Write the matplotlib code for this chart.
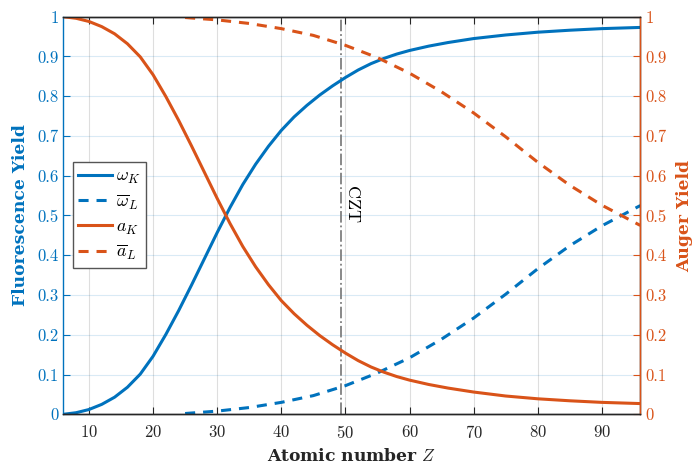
import numpy as np
import matplotlib
matplotlib.use('Agg')
import matplotlib.pyplot as plt
from matplotlib.ticker import FuncFormatter, MultipleLocator

plt.rcParams['mathtext.fontset'] = 'cm'
plt.rcParams['axes.formatter.use_mathtext'] = True

# K shell yields
z_k = [6, 8, 10, 12, 14, 16, 18, 20, 22, 24, 26, 28, 30, 32, 34, 36, 38, 40,
       42, 44, 46, 48, 50, 52, 54, 56, 58, 60, 63, 66, 70, 75, 80, 85, 90, 96]
omega_k = [0.000, 0.004, 0.012, 0.025, 0.043, 0.068, 0.101, 0.146, 0.201, 0.261,
           0.325, 0.391, 0.457, 0.520, 0.578, 0.629, 0.674, 0.714, 0.748, 0.777,
           0.803, 0.826, 0.847, 0.866, 0.882, 0.895, 0.906, 0.915, 0.926, 0.935,
           0.945, 0.954, 0.961, 0.966, 0.970, 0.973]
auger_k = [1.000, 0.996, 0.988, 0.975, 0.957, 0.932, 0.899, 0.854, 0.799, 0.739,
           0.675, 0.609, 0.543, 0.480, 0.422, 0.371, 0.326, 0.286, 0.253, 0.224,
           0.198, 0.175, 0.154, 0.135, 0.119, 0.106, 0.095, 0.086, 0.075, 0.066,
           0.056, 0.046, 0.039, 0.034, 0.030, 0.027]

# mean L shell yields
z_l = [25, 30, 35, 40, 45, 50, 55, 60, 65, 70, 75, 80, 85, 90, 96]
omega_l = [0.002, 0.008, 0.017, 0.030, 0.047, 0.072, 0.104, 0.142, 0.189, 0.242,
           0.302, 0.366, 0.424, 0.474, 0.525]
auger_l = [0.998, 0.992, 0.983, 0.970, 0.953, 0.928, 0.897, 0.858, 0.811, 0.758,
           0.698, 0.634, 0.576, 0.526, 0.475]

z_czt = 49.3

blue = '#0072BD'
orange = '#D95319'
dark = '#262626'
tick_font = 'cmr10'
label_font = 'DejaVu Serif'

fig = plt.figure(figsize=(6.98, 4.70), dpi=100)
ax = fig.add_axes([63.3 / 698, 1 - 414.3 / 470, 577 / 698, 397.6 / 470])
ax2 = ax.twinx()

lw = 2.2
dash = (3.3, 2.6)
l1, = ax.plot(z_k, omega_k, color=blue, lw=lw, label=r'$\omega_K$')
l2, = ax.plot(z_l, omega_l, color=blue, lw=lw, dashes=dash, label=r'$\overline{\omega}_L$')
l3, = ax2.plot(z_k, auger_k, color=orange, lw=lw, label=r'$a_K$')
l4, = ax2.plot(z_l, auger_l, color=orange, lw=lw, dashes=dash, label=r'$\overline{a}_L$')

ax.axvline(z_czt, color='#7f7f7f', lw=1.3, ls='-.', zorder=1)
ax.text(51.0, 0.527, 'CZT', rotation=270, ha='center', va='center',
        fontsize=13, family=tick_font, color='k')

for a in (ax, ax2):
    a.set_xlim(6, 96)
    a.set_ylim(0, 1)
    a.yaxis.set_major_locator(MultipleLocator(0.1))
    a.yaxis.set_major_formatter(FuncFormatter(lambda v, p: f'{v:g}'))

ax.set_xticks(np.arange(10, 91, 10))
ax.grid(axis='x', color=dark, alpha=0.15, lw=0.8)
ax.grid(axis='y', color=blue, alpha=0.15, lw=0.8)
ax.set_axisbelow(True)

ax.tick_params(axis='x', direction='in', top=True, colors=dark, labelsize=12, length=5, pad=7)
ax.tick_params(axis='y', direction='in', colors=blue, labelsize=12, length=5)
ax2.tick_params(axis='y', direction='in', colors=orange, labelsize=12, length=5)
for lab in ax.get_xticklabels() + ax.get_yticklabels() + ax2.get_yticklabels():
    lab.set_family(tick_font)

ax.spines['left'].set_color(blue)
ax.spines['bottom'].set_color(dark)
ax.spines['top'].set_color(dark)
ax2.spines['right'].set_color(orange)
ax2.spines['left'].set_visible(False)
ax2.spines['top'].set_color(dark)
ax2.spines['bottom'].set_color(dark)
for a in (ax, ax2):
    for s in a.spines.values():
        s.set_linewidth(1.0)

ax.set_xlabel('Atomic number $Z$', family=label_font, fontweight='bold',
              fontsize=12.3, color=dark, labelpad=5)
ax.set_ylabel('Fluorescence Yield', family=label_font, fontweight='bold',
              fontsize=12.3, color=blue, labelpad=6)
ax2.set_ylabel('Auger Yield', family=label_font, fontweight='bold',
               fontsize=12.3, color=orange, labelpad=7)

leg = ax2.legend(handles=[l1, l2, l3, l4], loc='upper left',
                 bbox_to_anchor=(0.016, 0.635), borderaxespad=0, fontsize=13,
                 handlelength=1.9, handletextpad=0.2, labelspacing=0.33,
                 borderpad=0.3, fancybox=False, framealpha=1)
leg.get_frame().set_edgecolor('#555555')
leg.get_frame().set_linewidth(1.0)

fig.savefig('out.png', dpi=100)
